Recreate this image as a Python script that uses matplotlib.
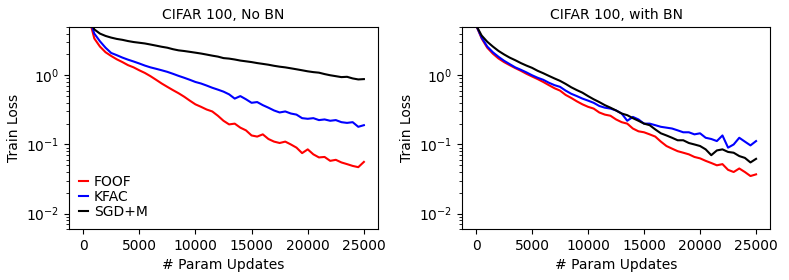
import numpy as np
import matplotlib
matplotlib.use("Agg")
import matplotlib.pyplot as plt

updates = list(range(0, 25001, 500))

# Left: CIFAR 100, No BN
nobn_foof = [12, 7, 3.4, 2.6, 2.15, 1.9, 1.7, 1.55, 1.4, 1.3, 1.18, 1.08, 0.97, 0.86, 0.76,
             0.68, 0.61, 0.55, 0.49, 0.43, 0.38, 0.35, 0.32, 0.3, 0.26, 0.22, 0.195, 0.2,
             0.175, 0.16, 0.135, 0.13, 0.14, 0.12, 0.11, 0.105, 0.11, 0.1, 0.09, 0.075,
             0.085, 0.072, 0.065, 0.066, 0.058, 0.06, 0.055, 0.052, 0.049, 0.047, 0.056]
nobn_kfac = [12, 7, 4.0, 3.1, 2.5, 2.1, 1.95, 1.8, 1.68, 1.58, 1.48, 1.38, 1.3, 1.24, 1.18,
             1.12, 1.05, 0.98, 0.92, 0.86, 0.8, 0.76, 0.71, 0.66, 0.62, 0.58, 0.53, 0.46,
             0.5, 0.45, 0.4, 0.41, 0.37, 0.34, 0.31, 0.29, 0.3, 0.28, 0.27, 0.24, 0.235,
             0.24, 0.225, 0.23, 0.22, 0.225, 0.21, 0.205, 0.21, 0.18, 0.19]
nobn_sgd = [12, 7, 4.6, 4.0, 3.7, 3.5, 3.35, 3.25, 3.12, 3.02, 2.95, 2.88, 2.78, 2.68, 2.58,
            2.5, 2.38, 2.29, 2.24, 2.18, 2.12, 2.06, 1.99, 1.92, 1.86, 1.77, 1.74, 1.69,
            1.63, 1.59, 1.55, 1.5, 1.46, 1.42, 1.37, 1.33, 1.3, 1.26, 1.22, 1.18, 1.14,
            1.11, 1.09, 1.04, 1.0, 0.97, 0.94, 0.95, 0.9, 0.87, 0.88]

# Right: CIFAR 100, with BN
bn_foof = [5.3, 3.4, 2.5, 2.05, 1.75, 1.55, 1.4, 1.27, 1.16, 1.05, 0.96, 0.88, 0.8, 0.72,
           0.65, 0.6, 0.52, 0.47, 0.42, 0.38, 0.35, 0.33, 0.29, 0.27, 0.26, 0.23, 0.21,
           0.2, 0.17, 0.155, 0.15, 0.14, 0.13, 0.11, 0.095, 0.087, 0.08, 0.076, 0.072,
           0.066, 0.063, 0.058, 0.054, 0.05, 0.052, 0.043, 0.04, 0.045, 0.04, 0.035, 0.037]
bn_kfac = [5.3, 3.5, 2.6, 2.15, 1.85, 1.62, 1.45, 1.3, 1.2, 1.1, 1.0, 0.92, 0.86, 0.78,
           0.72, 0.68, 0.6, 0.54, 0.5, 0.46, 0.43, 0.4, 0.36, 0.34, 0.33, 0.31, 0.28,
           0.22, 0.25, 0.23, 0.2, 0.2, 0.19, 0.18, 0.175, 0.17, 0.16, 0.15, 0.15, 0.14,
           0.145, 0.125, 0.12, 0.112, 0.135, 0.09, 0.1, 0.125, 0.11, 0.097, 0.112]
bn_sgd = [5.3, 3.75, 3.05, 2.6, 2.25, 2.0, 1.8, 1.65, 1.5, 1.38, 1.28, 1.16, 1.07, 0.98,
          0.9, 0.83, 0.75, 0.67, 0.61, 0.56, 0.5, 0.45, 0.41, 0.37, 0.34, 0.31, 0.28,
          0.265, 0.24, 0.22, 0.2, 0.19, 0.165, 0.145, 0.135, 0.125, 0.115, 0.115, 0.105,
          0.1, 0.095, 0.085, 0.07, 0.082, 0.085, 0.078, 0.076, 0.068, 0.064, 0.055, 0.062]

titles = ["CIFAR 100, No BN", "CIFAR 100, with BN"]
labels = ["FOOF", "KFAC", "SGD+M"]
colors = ["red", "blue", "black"]

plt.rcParams['font.family'] = ['DejaVu Sans']
plt.rcParams['font.size'] = 10

fig = plt.figure(figsize=(7.89, 2.8), dpi=100)
ax1 = fig.add_axes([0.0875, 0.182, 0.3915, 0.722])
ax2 = fig.add_axes([0.5856, 0.182, 0.3904, 0.722])

panels = [(ax1, [nobn_foof, nobn_kfac, nobn_sgd]), (ax2, [bn_foof, bn_kfac, bn_sgd])]
for i, (ax, series) in enumerate(panels):
    for s, lab, c in zip(series, labels, colors):
        ax.plot(updates, s, color=c, lw=1.5, label=lab)
    ax.set_yscale('log')
    ax.set_ylim(0.006, 5.0)
    ax.set_xlim(-1250, 26250)
    ax.set_xticks([0, 5000, 10000, 15000, 20000, 25000])
    ax.set_title(titles[i], fontsize=10)
    ax.set_xlabel("# Param Updates")
    ax.set_ylabel("Train Loss")
    ax.tick_params(labelsize=10)

ax1.legend(loc='lower left', frameon=False, handlelength=0.7, handletextpad=0.4,
           labelspacing=0.1, borderaxespad=0.3, fontsize=10)

fig.savefig("out.png", dpi=100)
